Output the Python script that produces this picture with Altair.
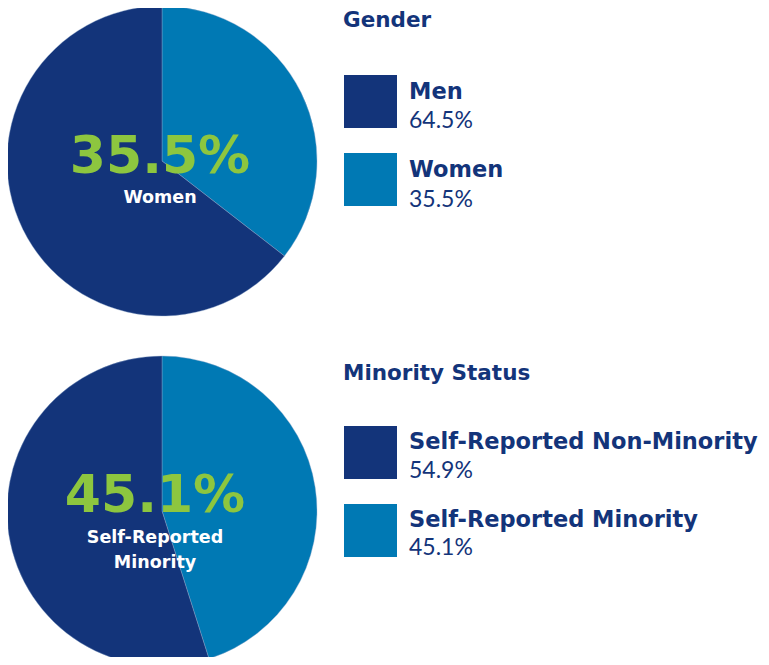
import altair as alt
import pandas as pd

# ---- data ----
gender_categories = ["Women", "Men"]
gender_values = [35.5, 64.5]
minority_categories = ["Self-Reported Minority", "Self-Reported Non-Minority"]
minority_values = [45.1, 54.9]

NAVY = "#13347a"
BLUE = "#0079b4"
GREEN = "#8dc63f"
HEAVY = "DejaVu Sans"
BODY = "Lato"

rows = []
for grp, cats, vals in [("Gender", gender_categories, gender_values),
                        ("Minority Status", minority_categories, minority_values)]:
    for i, (c, v) in enumerate(zip(cats, vals)):
        rows.append({"group": grp, "category": c, "value": v, "order": i})
df = pd.DataFrame(rows)

color_scale = alt.Scale(
    domain=gender_categories + minority_categories,
    range=[BLUE, NAVY, BLUE, NAVY],
)

base = alt.Chart(df).transform_calculate(
    pct="format(datum.value, '.1f') + '%'"
)

OFF = 8  # page margin


def panel(group, highlight, other, cx, cy, text_cx, big_y, lab_y, legend_y):
    layers = []
    b = base.transform_filter(alt.datum.group == group)
    # pie
    layers.append(
        b.mark_arc(radius=155, stroke="#8fa8cc", strokeWidth=0.4).encode(
            x=alt.value(cx - OFF), y=alt.value(cy - OFF),
            theta=alt.Theta("value:Q", stack=True),
            order=alt.Order("order:Q"),
            color=alt.Color("category:N", scale=color_scale, legend=None),
        )
    )
    h = b.transform_filter(alt.datum.category == highlight)
    layers.append(
        h.mark_text(font=HEAVY, fontWeight="bold", fontSize=52, color=GREEN,
                    align="center", baseline="alphabetic").encode(
            x=alt.value(text_cx - OFF), y=alt.value(big_y - OFF), text="pct:N")
    )
    layers.append(
        h.mark_text(font=HEAVY, fontWeight="bold", fontSize=17.5, color="white",
                    align="center", baseline="alphabetic", lineBreak=" ",
                    lineHeight=25).encode(
            x=alt.value(text_cx - OFF), y=alt.value(lab_y - OFF), text="category:N")
    )
    # legend title
    layers.append(
        alt.Chart(pd.DataFrame({"t": [group]})).mark_text(
            font=HEAVY, fontWeight="bold", fontSize=21.5, color=NAVY,
            align="left", baseline="alphabetic").encode(
            x=alt.value(343 - OFF), y=alt.value(legend_y[0] - OFF), text="t:N")
    )
    # legend entries: (category, square top, label baseline, pct baseline)
    for cat, sq_top, l_y, p_y in [(other, legend_y[1], legend_y[2], legend_y[3]),
                                  (highlight, legend_y[4], legend_y[5], legend_y[6])]:
        e = b.transform_filter(alt.datum.category == cat)
        layers.append(
            e.mark_rect().encode(
                x=alt.value(344 - OFF), x2=alt.value(397 - OFF),
                y=alt.value(sq_top - OFF), y2=alt.value(sq_top + 53 - OFF),
                color=alt.Color("category:N", scale=color_scale, legend=None),
            )
        )
        layers.append(
            e.mark_text(font=HEAVY, fontWeight="bold", fontSize=22.5, color=NAVY,
                        align="left", baseline="alphabetic").encode(
                x=alt.value(409 - OFF), y=alt.value(l_y - OFF), text="category:N")
        )
        layers.append(
            e.mark_text(font=BODY, fontWeight=400, fontSize=23, color=NAVY,
                        align="left", baseline="alphabetic").encode(
                x=alt.value(409 - OFF), y=alt.value(p_y - OFF), text="pct:N")
        )
    return layers


layers = []
layers += panel("Gender", "Women", "Men", 162, 161, 160, 173, 203,
                [27, 75, 99, 128, 153, 177, 207])
layers += panel("Minority Status", "Self-Reported Minority",
                "Self-Reported Non-Minority", 162, 511, 155, 512, 543,
                [380, 426, 449, 478, 504, 527, 555])

chart = alt.layer(*layers).properties(
    width=753, height=649, padding=0,
    autosize=alt.AutoSizeParams(type="none"),
).configure_view(stroke=None)

chart.save("out.html", embed_options={"renderer": "svg", "actions": False})
